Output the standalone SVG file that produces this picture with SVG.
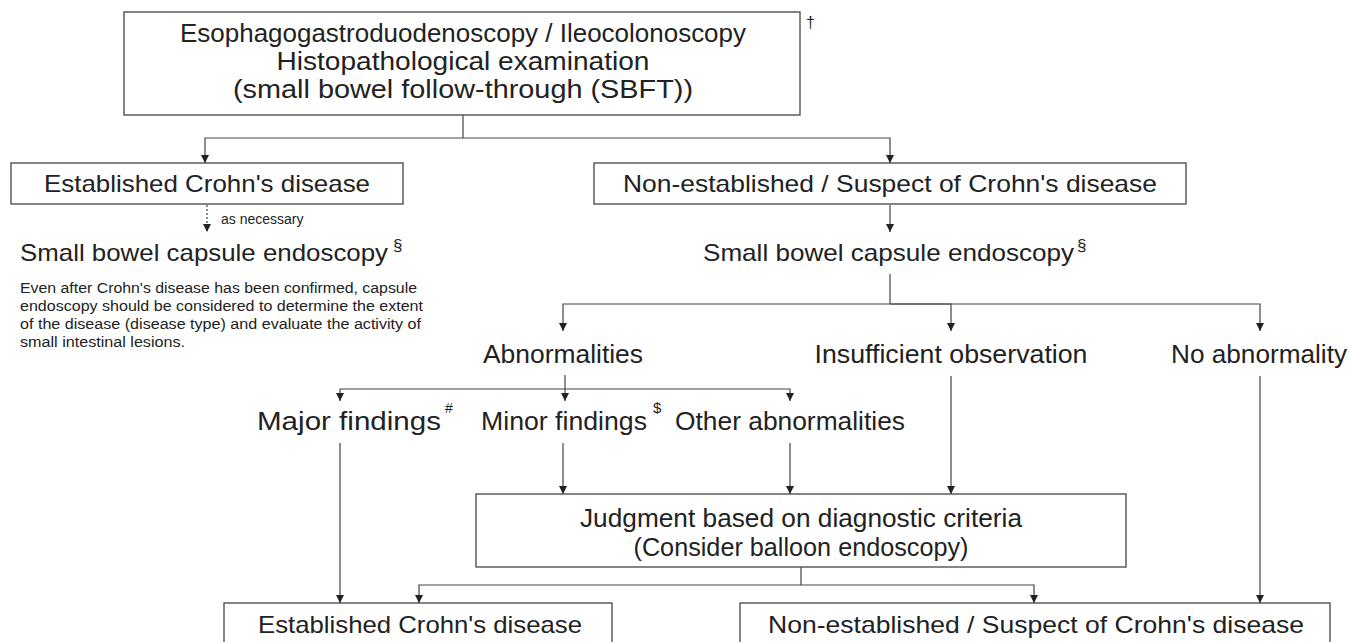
<svg xmlns="http://www.w3.org/2000/svg" width="1349" height="642" viewBox="0 0 1349 642">
<defs>
<marker id="ah" viewBox="0 0 10 10" refX="10" refY="5" markerWidth="9" markerHeight="8" markerUnits="userSpaceOnUse" orient="auto">
<path d="M0,0 L10,5 L0,10 z" fill="#222"/>
</marker>
</defs>
<style>
.box{fill:#fff;stroke:#444;stroke-width:1.3}
.t{font-family:"Liberation Sans","Noto Sans CJK JP",sans-serif;fill:#222}
.l{font-size:24px}
.k{font-size:26px}
.m{font-size:14px}
.c{stroke:#444;stroke-width:1.2;fill:none}
.a{marker-end:url(#ah)}
.d{stroke-dasharray:2 2}
</style>
<rect width="1349" height="642" fill="#fff"/>
<g id="connectors">
<path class="c" d="M463,115 V138"/>
<path class="c a" d="M463,138 H205 V163"/>
<path class="c a" d="M463,138 H890 V163"/>
<path class="c d a" d="M207,205 V232"/>
<path class="c a" d="M890,205 V232"/>
<path class="c" d="M890,274 V304"/>
<path class="c a" d="M890,304 H563 V331"/>
<path class="c a" d="M890,304 H951 V331"/>
<path class="c a" d="M890,304 H1260 V331"/>
<path class="c a" d="M565,375 V401"/>
<path class="c a" d="M565,389 H340 V401"/>
<path class="c a" d="M565,389 H790 V401"/>
<path class="c a" d="M340,443 V603"/>
<path class="c a" d="M563,443 V494"/>
<path class="c a" d="M790,443 V494"/>
<path class="c a" d="M951,376 V494"/>
<path class="c a" d="M1260,376 V603"/>
<path class="c" d="M801,567 V585"/>
<path class="c a" d="M801,585 H419 V603"/>
<path class="c a" d="M801,585 H1034 V603"/>
</g>
<g id="n-top">
<rect class="box" x="124" y="12" width="676" height="103"/>
<text class="t k" x="463" y="42" text-anchor="middle" textLength="566" lengthAdjust="spacingAndGlyphs">Esophagogastroduodenoscopy / Ileocolonoscopy</text>
<text class="t k" x="463" y="70" text-anchor="middle" textLength="373" lengthAdjust="spacingAndGlyphs">Histopathological examination</text>
<text class="t k" x="463" y="98" text-anchor="middle" textLength="460" lengthAdjust="spacingAndGlyphs">(small bowel follow-through (SBFT))</text>
<text class="t" x="806" y="28" font-size="16">†</text>
</g>
<g id="n-est1">
<rect class="box" x="11" y="163" width="392" height="41"/>
<text class="t l" x="207" y="192" text-anchor="middle" textLength="326" lengthAdjust="spacingAndGlyphs">Established Crohn's disease</text>
</g>
<g id="n-asnec">
<text class="t m" x="221" y="224">as necessary</text>
</g>
<g id="n-cap1">
<text class="t l" x="20" y="261" textLength="368" lengthAdjust="spacingAndGlyphs">Small bowel capsule endoscopy</text>
<text class="t" x="393" y="251" font-size="17">§</text>
<text class="t m" x="20" y="293" textLength="397" lengthAdjust="spacingAndGlyphs">Even after Crohn's disease has been confirmed, capsule</text>
<text class="t m" x="20" y="311" textLength="403" lengthAdjust="spacingAndGlyphs">endoscopy should be considered to determine the extent</text>
<text class="t m" x="20" y="329" textLength="401" lengthAdjust="spacingAndGlyphs">of the disease (disease type) and evaluate the activity of</text>
<text class="t m" x="20" y="347" textLength="165" lengthAdjust="spacingAndGlyphs">small intestinal lesions.</text>
</g>
<g id="n-nonest1">
<rect class="box" x="594" y="163" width="592" height="41"/>
<text class="t l" x="890" y="192" text-anchor="middle" textLength="534" lengthAdjust="spacingAndGlyphs">Non-established / Suspect of Crohn's disease</text>
</g>
<g id="n-cap2">
<text class="t l" x="703" y="261" textLength="371" lengthAdjust="spacingAndGlyphs">Small bowel capsule endoscopy</text>
<text class="t" x="1077" y="251" font-size="17">§</text>
</g>
<g id="n-abn">
<text class="t k" x="563" y="363" text-anchor="middle" textLength="160" lengthAdjust="spacingAndGlyphs">Abnormalities</text>
</g>
<g id="n-insuf">
<text class="t k" x="951" y="363" text-anchor="middle" textLength="273" lengthAdjust="spacingAndGlyphs">Insufficient observation</text>
</g>
<g id="n-noabn">
<text class="t k" x="1259" y="363" text-anchor="middle" textLength="176" lengthAdjust="spacingAndGlyphs">No abnormality</text>
</g>
<g id="n-major">
<text class="t k" x="257" y="430" textLength="184" lengthAdjust="spacingAndGlyphs">Major findings</text>
<text class="t" x="445" y="413" font-size="14">#</text>
</g>
<g id="n-minor">
<text class="t k" x="481" y="430" textLength="166" lengthAdjust="spacingAndGlyphs">Minor findings</text>
<text class="t" x="653" y="413" font-size="15">$</text>
</g>
<g id="n-other">
<text class="t k" x="675" y="430" textLength="230" lengthAdjust="spacingAndGlyphs">Other abnormalities</text>
</g>
<g id="n-judg">
<rect class="box" x="476" y="494" width="650" height="73"/>
<text class="t k" x="801" y="527" text-anchor="middle" textLength="442" lengthAdjust="spacingAndGlyphs">Judgment based on diagnostic criteria</text>
<text class="t k" x="801" y="556" text-anchor="middle" textLength="335" lengthAdjust="spacingAndGlyphs">(Consider balloon endoscopy)</text>
</g>
<g id="n-est2">
<rect class="box" x="224" y="603" width="388" height="50"/>
<text class="t l" x="420" y="633" text-anchor="middle" textLength="324" lengthAdjust="spacingAndGlyphs">Established Crohn's disease</text>
</g>
<g id="n-nonest2">
<rect class="box" x="740" y="603" width="590" height="50"/>
<text class="t l" x="1036" y="633" text-anchor="middle" textLength="536" lengthAdjust="spacingAndGlyphs">Non-established / Suspect of Crohn's disease</text>
</g>
</svg>
